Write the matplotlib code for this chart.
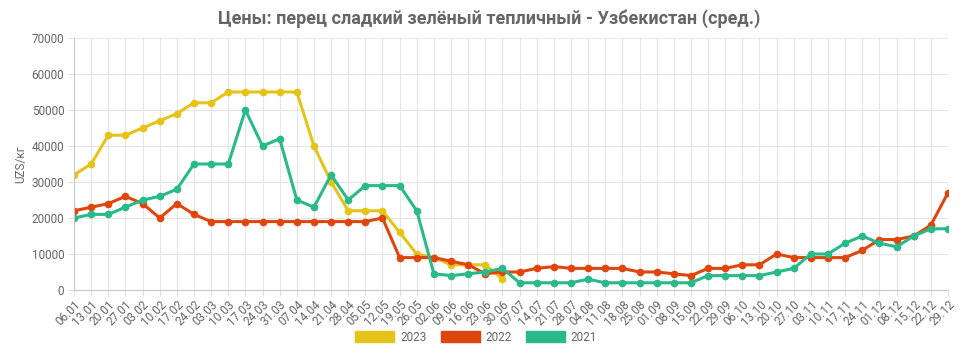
import matplotlib.pyplot as plt
from matplotlib.patches import Patch

plt.rcParams['font.family'] = ['Roboto', 'DejaVu Sans']

# Даты (недели)
dates = ['06.01', '13.01', '20.01', '27.01', '03.02', '10.02', '17.02', '24.02', '03.03', '10.03',
         '17.03', '24.03', '31.03', '07.04', '14.04', '21.04', '28.04', '05.05', '12.05', '19.05',
         '26.05', '02.06', '09.06', '16.06', '23.06', '30.06', '07.07', '14.07', '21.07', '28.07',
         '04.08', '11.08', '18.08', '25.08', '01.09', '08.09', '15.09', '22.09', '29.09', '06.10',
         '13.10', '20.10', '27.10', '03.11', '10.11', '17.11', '24.11', '01.12', '08.12', '15.12',
         '22.12', '29.12']

# Цены по годам
prices_2023 = [32000, 35000, 43000, 43000, 45000, 47000, 49000, 52000, 52000, 55000,
               55000, 55000, 55000, 55000, 40000, 30000, 22000, 22000, 22000, 16000,
               10000, 9000, 7000, 7000, 7000, 3000]
prices_2022 = [22000, 23000, 24000, 26000, 24000, 20000, 24000, 21000, 19000, 19000,
               19000, 19000, 19000, 19000, 19000, 19000, 19000, 19000, 20000, 9000,
               9000, 9000, 8000, 7000, 4500, 5000, 5000, 6000, 6500, 6000,
               6000, 6000, 6000, 5000, 5000, 4500, 4000, 6000, 6000, 7000,
               7000, 10000, 9000, 9000, 9000, 9000, 11000, 14000, 14000, 15000,
               18000, 27000]
prices_2021 = [20000, 21000, 21000, 23000, 25000, 26000, 28000, 35000, 35000, 35000,
               50000, 40000, 42000, 25000, 23000, 32000, 25000, 29000, 29000, 29000,
               22000, 4500, 4000, 4500, 5000, 6000, 2000, 2000, 2000, 2000,
               3000, 2000, 2000, 2000, 2000, 2000, 2000, 4000, 4000, 4000,
               4000, 5000, 6000, 10000, 10000, 13000, 15000, 13000, 12000, 15000,
               17000, 17000]

years = ['2023', '2022', '2021']
colors = ['#e5c419', '#e0460c', '#2ab98a']
series = [prices_2023, prices_2022, prices_2021]

fig = plt.figure(figsize=(9.78, 3.57), dpi=100)
ax = fig.add_axes([0.0757, 0.1877, 0.8936, 0.7059])

x = list(range(len(dates)))
for vals, col in zip(series, colors):
    ax.plot(x[:len(vals)], vals, color=col, linewidth=2.2, marker='o', markersize=4.5)

ax.set_xlim(0, len(dates) - 1)
ax.set_ylim(0, 70000)
ax.set_yticks(range(0, 70001, 10000))
ax.set_xticks(x)
ax.set_xticklabels(dates, rotation=45, ha='right', va='top', rotation_mode='anchor')
ax.tick_params(axis='both', labelsize=8.5, colors='#666666', length=4, color='#e0e0e0')
ax.tick_params(axis='x', pad=2)
ax.tick_params(axis='y', pad=3)

ax.grid(True, color='#e6e6e6', linewidth=0.8)
ax.set_axisbelow(True)
for s in ['top', 'right']:
    ax.spines[s].set_visible(False)
ax.spines['left'].set_color('#c8c8c8')
ax.spines['bottom'].set_color('#c8c8c8')

ax.set_ylabel('UZS/кг', fontsize=8.5, color='#666666', labelpad=3)

fig.suptitle('Цены: перец сладкий зелёный тепличный - Узбекистан (сред.)',
             fontsize=13, fontweight='bold', color='#666666', y=0.975)

handles = [Patch(facecolor=c, edgecolor=c) for c in colors]
fig.legend(handles, years, loc='center', ncol=3, frameon=False,
           bbox_to_anchor=(0.487, 0.056), fontsize=8.5, labelcolor='#666666',
           handlelength=3.3, handleheight=1.1, columnspacing=1.2, handletextpad=0.5)

plt.savefig('out.png', dpi=100)
